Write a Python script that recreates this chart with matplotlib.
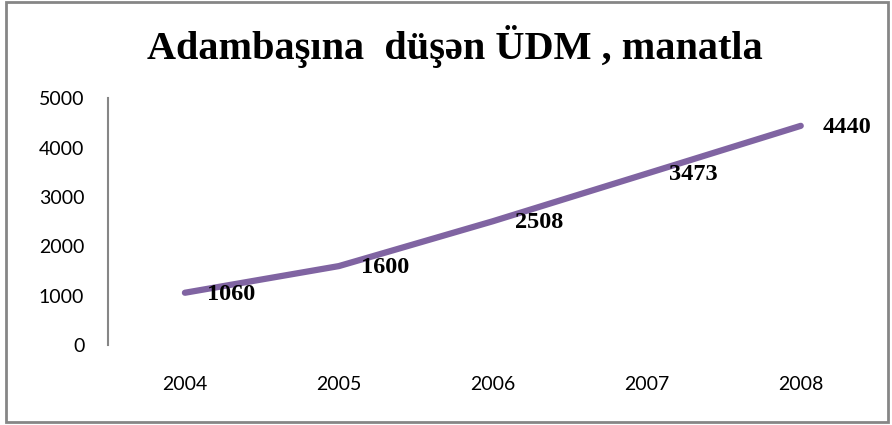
import matplotlib
import numpy as np
import matplotlib.pyplot as plt
from matplotlib.patches import Rectangle

matplotlib.use('Agg')

years = ['2004', '2005', '2006', '2007', '2008']
gdp_per_capita = [1060, 1600, 2508, 3473, 4440]
title = 'Adambaşına  düşən ÜDM , manatla'

fig = plt.figure(figsize=(8.92, 4.25), dpi=100)
ax = fig.add_axes([0.121, 0.188, 0.863, 0.581])

x = np.arange(len(years))
ax.plot(x, gdp_per_capita, color='#8064A2', lw=4.5, solid_capstyle='round')

# data labels to the right of each point
for xi, v in zip(x, gdp_per_capita):
    ax.annotate(str(v), (xi, v), xytext=(16, -1), textcoords='offset points',
                ha='left', va='center', fontsize=17.5, fontweight='bold',
                family='Liberation Serif')

ax.set_xlim(-0.5, len(years) - 0.5)
ax.set_ylim(0, 5000)
ax.set_yticks(range(0, 5001, 1000))
ax.set_xticks(x)
ax.set_xticklabels(years)
for lbl in ax.get_xticklabels() + ax.get_yticklabels():
    lbl.set_family('Lato')
    lbl.set_fontsize(14)
ax.tick_params(axis='y', length=0, pad=17)
ax.tick_params(axis='x', length=0, pad=22)

for s in ['top', 'right', 'bottom']:
    ax.spines[s].set_visible(False)
ax.spines['left'].set_color('#868686')
ax.spines['left'].set_linewidth(1.5)

fig.text(0.51, 0.89, title, ha='center', va='center', fontsize=29,
         fontweight='bold', family='Liberation Serif')

# outer chart frame
fig.patches.append(Rectangle((0.007, 0.008), 0.988, 0.988, transform=fig.transFigure,
                             fill=False, edgecolor='#868686', lw=2))

fig.savefig('out.png', dpi=100)
